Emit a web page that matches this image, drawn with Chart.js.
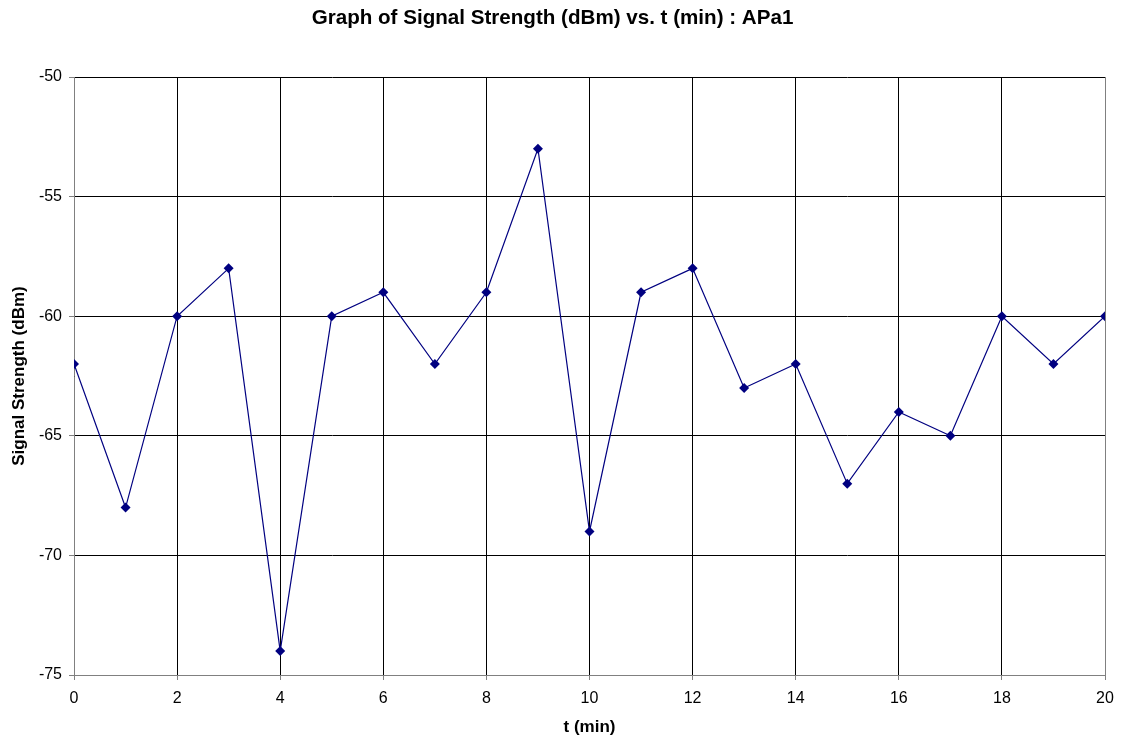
<!DOCTYPE html>
<html>
<head>
<meta charset="utf-8">
<script src="https://cdn.jsdelivr.net/npm/chart.js@4"></script>
<style>
  html, body { margin: 0; padding: 0; background: #fff; }
  #wrap { width: 1123px; height: 740px; }
</style>
</head>
<body>
<div id="wrap"><canvas id="chart" width="1123" height="740"></canvas></div>
<script>
// t (min) and signal strength
const times = [0, 1, 2, 3, 4, 5, 6, 7, 8, 9, 10, 11, 12, 13, 14, 15, 16, 17, 18, 19, 20];
const strength = [-62, -68, -60, -58, -74, -60, -59, -62, -59, -53, -69, -59, -58, -63, -62, -67, -64, -65, -60, -62, -60];

const titleText = 'Graph of Signal Strength (dBm) vs. t (min) : APa1';
const xTitle = 't (min)';
const yTitle = 'Signal Strength (dBm)';

const FONT = 'Liberation Sans, Arial, sans-serif';
const GRID = '#000000';
const AXIS = '#808080';

Chart.defaults.font.family = FONT;
Chart.defaults.color = '#000';

const points = times.map((t, i) => ({ x: t, y: strength[i] }));

new Chart(document.getElementById('chart').getContext('2d'), {
  type: 'line',
  data: {
    datasets: [{
      data: points,
      borderColor: '#000080',
      backgroundColor: '#000080',
      borderWidth: 1.2,
      pointStyle: 'rectRot',
      pointRadius: 5,
      pointBorderWidth: 0,
      tension: 0
    }]
  },
  options: {
    responsive: false,
    animation: false,
    layout: {
      padding: { left: 0, right: 18, top: 0, bottom: 0 }
    },
    plugins: {
      legend: { display: false },
      tooltip: { enabled: false },
      title: {
        display: true,
        text: titleText,
        font: { size: 20.6, weight: 'bold' },
        color: '#000',
        padding: { top: 6, bottom: 46.3 }
      }
    },
    scales: {
      x: {
        type: 'linear',
        min: 0,
        max: 20,
        afterFit: (axis) => { axis.height = 65; },
        ticks: {
          stepSize: 2,
          padding: 9,
          font: { size: 16 },
          color: '#000'
        },
        grid: {
          color: (ctx) => (ctx.tick && ctx.tick.value === 20) ? AXIS : GRID,
          tickColor: AXIS,
          tickLength: 5,
          lineWidth: 1
        },
        border: { color: AXIS, width: 1 },
        title: {
          display: true,
          text: xTitle,
          font: { size: 17, weight: 'bold' },
          color: '#000',
          padding: { top: 0, bottom: 2 }
        }
      },
      y: {
        min: -75,
        max: -50,
        afterFit: (axis) => { axis.width = 74; },
        ticks: {
          stepSize: 5,
          padding: 7,
          font: { size: 16 },
          color: '#000'
        },
        grid: {
          color: GRID,
          tickColor: AXIS,
          tickLength: 5,
          lineWidth: 1
        },
        border: { color: AXIS, width: 1 },
        title: {
          display: true,
          text: yTitle,
          font: { size: 17, weight: 'bold' },
          color: '#000',
          padding: { top: 9, bottom: 0 }
        }
      }
    }
  }
});
</script>
</body>
</html>
